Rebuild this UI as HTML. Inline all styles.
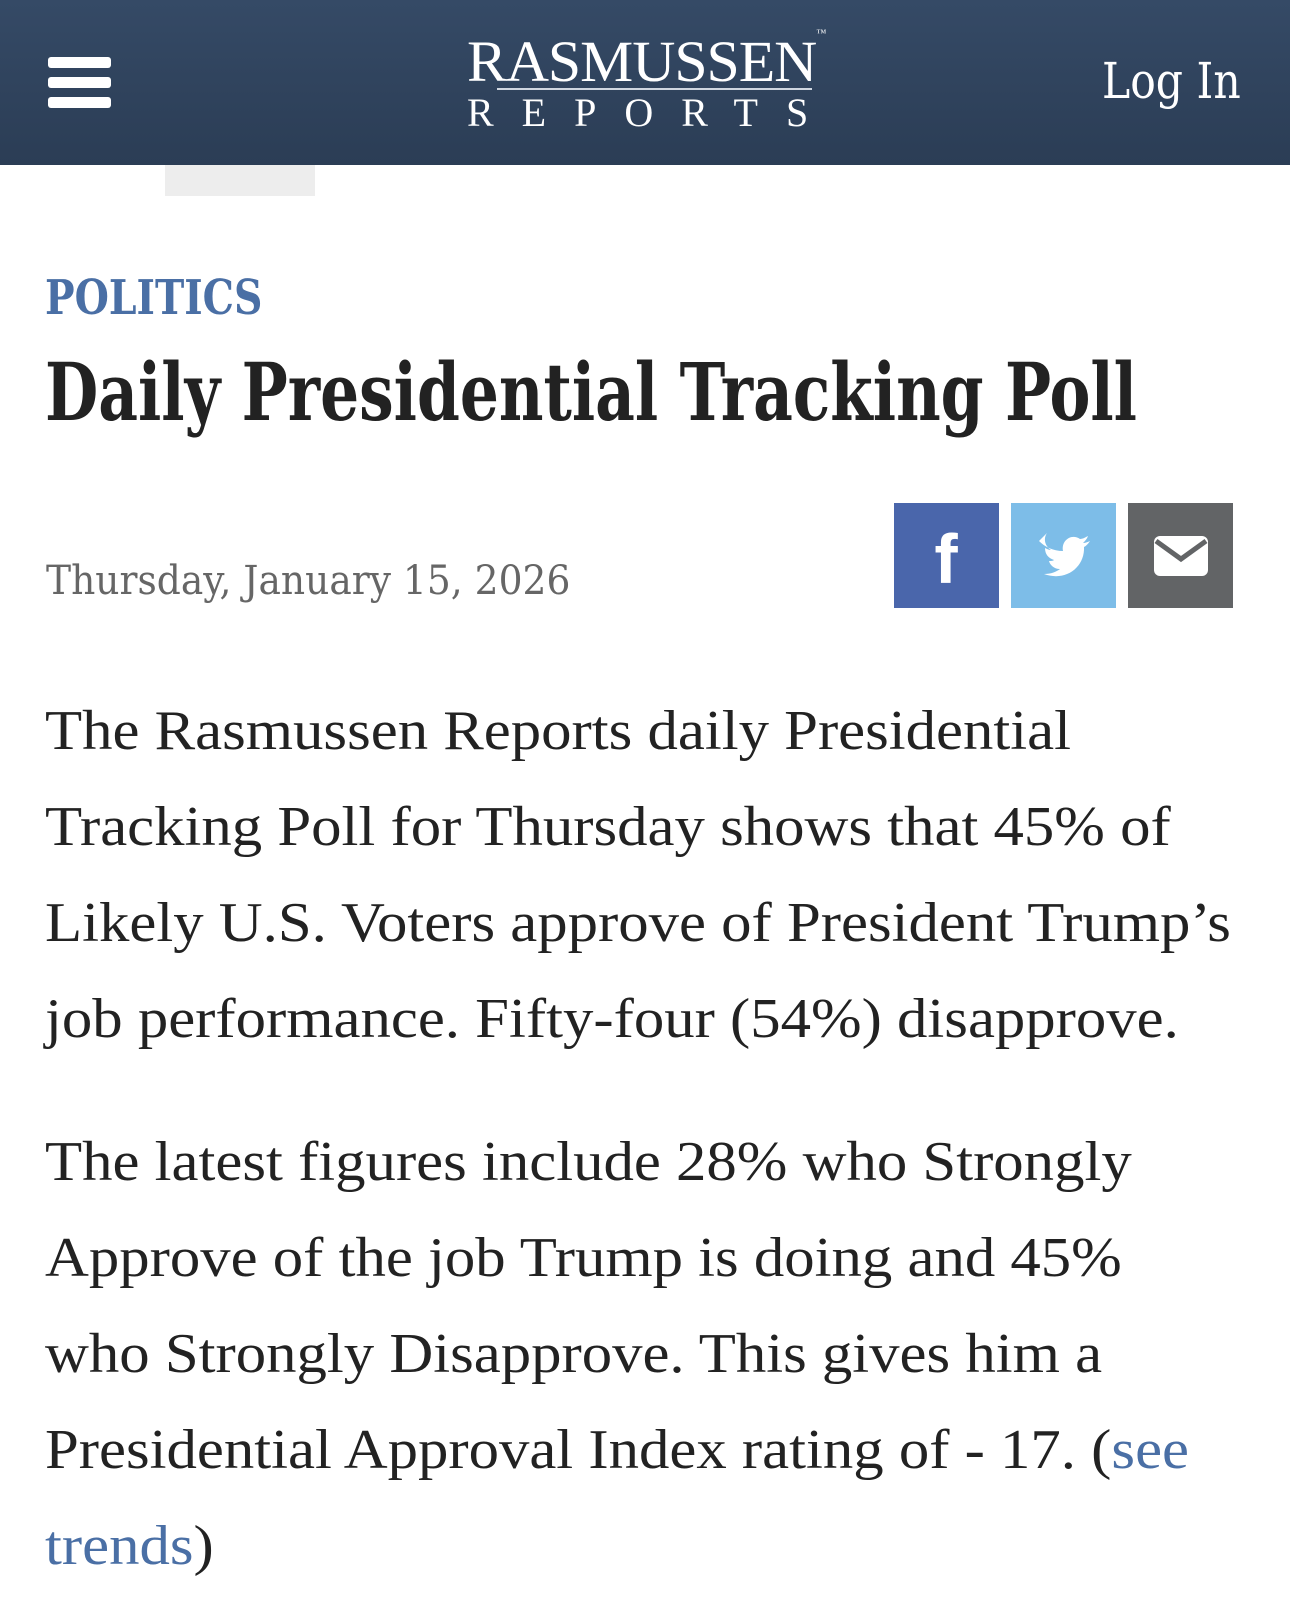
<!DOCTYPE html>
<html><head><meta charset="utf-8"><style>
*{margin:0;padding:0;box-sizing:border-box}
html,body{width:1290px;height:1621px;overflow:hidden;background:#fff}
body{position:relative;font-family:"Liberation Serif",serif;color:#222}
.hdr{position:absolute;left:0;top:0;width:1290px;height:165px;background:linear-gradient(#354a66,#2b3d55)}
.bar{position:absolute;left:48px;width:63px;height:11px;background:#fff;border-radius:3px}
.abs{position:absolute;white-space:nowrap}
.line{position:absolute;left:45px;white-space:nowrap;font-size:56px;line-height:96px;color:#222;transform:scaleX(1.085);transform-origin:0 50%}
.btn{position:absolute;top:503px;width:105px;height:105px}
a{color:#4a6fa5;text-decoration:none}
</style></head><body>
<div class="hdr">
<div class="bar" style="top:57px"></div>
<div class="bar" style="top:77px"></div>
<div class="bar" style="top:97px"></div>
<div class="abs" style="left:467px;top:28px;font-size:58px;color:#fff;letter-spacing:-1px;transform:scaleX(1.03);transform-origin:0 0">RASMUSSEN<span style="font-size:10px;vertical-align:top">™</span></div>
<div class="abs" style="left:497px;top:88px;width:315px;height:2px;background:#cfd6e0"></div>
<div class="abs" style="left:467px;top:89px;font-size:40px;color:#fff;letter-spacing:28px">REPORTS</div>
<div class="abs" style="left:1102px;top:52px;font-size:50px;color:#fff;font-family:'DejaVu Serif','Liberation Serif',serif;transform:scaleX(0.85);transform-origin:0 0">Log In</div>
</div>
<div class="abs" style="left:165px;top:165px;width:150px;height:31px;background:#ededed"></div>
<div class="abs" style="left:45px;top:270px;font-size:48px;font-weight:bold;color:#4a6fa5;font-family:'DejaVu Serif',serif;transform:scaleX(0.82);transform-origin:0 0">POLITICS</div>
<div class="abs" style="left:45px;top:345px;font-size:80px;font-weight:bold;color:#222;font-family:'DejaVu Serif',serif;transform:scaleX(0.767);transform-origin:0 0">Daily Presidential Tracking Poll</div>
<div class="abs" style="left:46px;top:558px;font-size:40px;color:#666;font-family:'DejaVu Serif',serif;transform:scaleX(0.94);transform-origin:0 0">Thursday, January 15, 2026</div>
<div class="btn" style="left:894px;background:#4a66ab"><svg width="105" height="105"><text x="52" y="80" text-anchor="middle" font-family="Liberation Sans" font-weight="bold" font-size="70" fill="#fff">f</text></svg></div>
<div class="btn" style="left:1011px;background:#7dbde8"><svg width="105" height="105"><path d="M28 38c6 6 14 10 24 10-2-10 8-18 17-12 3 0 6-2 8-3-1 3-3 5-5 7 2 0 5-1 7-2-2 3-4 5-6 6 1 20-18 35-40 27 7 0 12-2 16-5-6 0-10-4-11-8 2 0 4 0 5-1-6-2-9-6-9-12 2 1 4 2 6 2-6-4-8-11-4-17z" fill="#fff"/></svg></div>
<div class="btn" style="left:1128px;background:#626466"><svg width="105" height="105"><rect x="26" y="33" width="54" height="40" rx="6" fill="#fff"/><path d="M28 38l25 18 25-18" stroke="#626466" stroke-width="5" fill="none"/></svg></div>
<div class="line" style="top:683px">The Rasmussen Reports daily Presidential</div>
<div class="line" style="top:779px">Tracking Poll for Thursday shows that 45% of</div>
<div class="line" style="top:875px">Likely U.S. Voters approve of President Trump’s</div>
<div class="line" style="top:971px">job performance. Fifty-four (54%) disapprove.</div>
<div class="line" style="top:1114px">The latest figures include 28% who Strongly</div>
<div class="line" style="top:1210px">Approve of the job Trump is doing and 45%</div>
<div class="line" style="top:1306px">who Strongly Disapprove. This gives him a</div>
<div class="line" style="top:1402px">Presidential Approval Index rating of - 17. (<a>see</a></div>
<div class="line" style="top:1498px"><a>trends</a>)</div>
</body></html>
